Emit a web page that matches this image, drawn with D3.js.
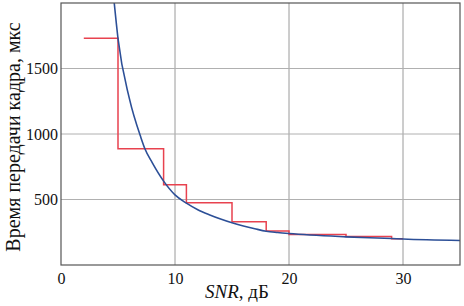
<!DOCTYPE html>
<html>
<head>
<meta charset="utf-8">
<script src="https://cdn.jsdelivr.net/npm/d3@7"></script>
<style>
  body { margin: 0; background: #fff; }
  svg text { font-family: 'Liberation Serif', serif; }
</style>
</head>
<body>
<div id="chart"></div>
<script>
// measured step values (red)
const stepX = [2, 5, 9, 11, 15, 18, 20, 25, 29, 30];
const stepY = [1730, 888, 612, 475, 330, 260, 232, 218, 200, 200];

// model curve (blue)
const curveX = [4.67, 5, 6, 7, 7.36, 8, 9, 10, 11, 12, 13, 14, 15, 16, 17, 18, 19, 20, 25, 29, 30, 35];
const curveY = [2000, 1729, 1270, 975, 887, 781, 640, 535, 472, 422, 384, 351, 322, 298, 277, 258, 248, 240, 215, 202, 198, 187];

const xTicks = [0, 10, 20, 30];
const yTicks = [500, 1000, 1500];

const svgWidth = 464;
const svgHeight = 306;
const margin = { top: 3, right: 4, bottom: 41, left: 61 };
const chartWidth = svgWidth - margin.left - margin.right;
const chartHeight = svgHeight - margin.top - margin.bottom;

const svg = d3.select("#chart")
    .append("svg")
    .attr("width", svgWidth)
    .attr("height", svgHeight);

const g = svg.append("g")
    .attr("transform", `translate(${margin.left}, ${margin.top})`);

const x = d3.scaleLinear().domain([0, 35]).range([0, chartWidth]);
const y = d3.scaleLinear().domain([0, 2000]).range([chartHeight, 0]);

// grid
g.append("g")
    .selectAll("line")
    .data(xTicks.filter(d => d > 0))
    .enter()
    .append("line")
    .attr("x1", d => x(d)).attr("x2", d => x(d))
    .attr("y1", 0).attr("y2", chartHeight)
    .attr("stroke", "#9a9a9a")
    .attr("stroke-width", 1);

g.append("g")
    .selectAll("line")
    .data(yTicks)
    .enter()
    .append("line")
    .attr("x1", 0).attr("x2", chartWidth)
    .attr("y1", d => y(d)).attr("y2", d => y(d))
    .attr("stroke", "#b0b0b0")
    .attr("stroke-width", 1);

svg.append("clipPath").attr("id", "clip")
    .append("rect").attr("width", chartWidth).attr("height", chartHeight);

const plot = g.append("g").attr("clip-path", "url(#clip)");

const stepData = stepX.map((d, i) => [d, stepY[i]]);
plot.append("path")
    .datum(stepData)
    .attr("fill", "none")
    .attr("stroke", "#e8424f")
    .attr("stroke-width", 1.5)
    .attr("d", d3.line()
        .x(d => x(d[0]))
        .y(d => y(d[1]))
        .curve(d3.curveStepAfter));

const curveData = curveX.map((d, i) => [d, curveY[i]]);
plot.append("path")
    .datum(curveData)
    .attr("fill", "none")
    .attr("stroke", "#2c4f97")
    .attr("stroke-width", 1.6)
    .attr("d", d3.line()
        .x(d => x(d[0]))
        .y(d => y(d[1]))
        .curve(d3.curveMonotoneX));

// frame
g.append("rect")
    .attr("width", chartWidth)
    .attr("height", chartHeight)
    .attr("fill", "none")
    .attr("stroke", "#555")
    .attr("stroke-width", 1.2);

// axes
const xAxis = g.append("g")
    .attr("transform", `translate(0, ${chartHeight})`)
    .call(d3.axisBottom(x).tickValues(xTicks).tickSize(0).tickPadding(8).tickFormat(d3.format("d")));
xAxis.attr("font-family", null).attr("font-size", 16);
xAxis.select(".domain").remove();
xAxis.selectAll("text").attr("fill", "#111");

const yAxis = g.append("g")
    .call(d3.axisLeft(y).tickValues(yTicks).tickSize(0).tickPadding(3).tickFormat(d3.format("d")));
yAxis.attr("font-family", null).attr("font-size", 16);
yAxis.select(".domain").remove();
yAxis.selectAll("text").attr("fill", "#111");

// axis titles
const xl = svg.append("text")
    .attr("x", 237)
    .attr("y", 298)
    .attr("text-anchor", "middle")
    .attr("font-size", 19)
    .attr("fill", "#111");
xl.append("tspan").attr("font-style", "italic").text("SNR");
xl.append("tspan").text(", дБ");

svg.append("text")
    .attr("transform", "translate(20, 137) rotate(-90)")
    .attr("text-anchor", "middle")
    .attr("font-size", 20)
    .attr("fill", "#111")
    .text("Время передачи кадра, мкс");
</script>
</body>
</html>
